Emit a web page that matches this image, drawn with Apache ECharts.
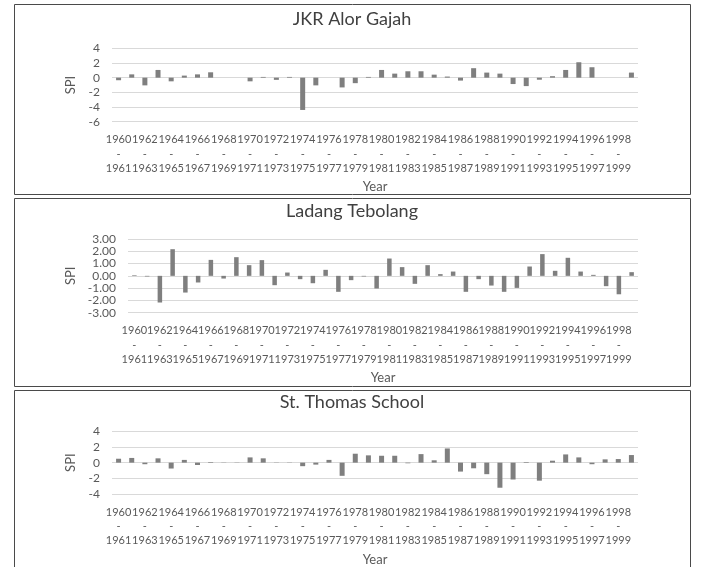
<!DOCTYPE html>
<html>
<head>
<meta charset="utf-8">
<script src="https://cdn.jsdelivr.net/npm/echarts@6/dist/echarts.min.js"></script>
<style>
html,body{margin:0;padding:0;background:#fff;}
#chart{width:701px;height:567px;}
</style>
</head>
<body>
<div id="chart"></div>
<script>
const categories = ["1960-1961","1961-1962","1962-1963","1963-1964","1964-1965","1965-1966","1966-1967","1967-1968","1968-1969","1969-1970",
"1970-1971","1971-1972","1972-1973","1973-1974","1974-1975","1975-1976","1976-1977","1977-1978","1978-1979","1979-1980",
"1980-1981","1981-1982","1982-1983","1983-1984","1984-1985","1985-1986","1986-1987","1987-1988","1988-1989","1989-1990",
"1990-1991","1991-1992","1992-1993","1993-1994","1994-1995","1995-1996","1996-1997","1997-1998","1998-1999","1999-2000"];

const titles = ["JKR Alor Gajah", "Ladang Tebolang", "St. Thomas School"];

const alorGajah = [-0.35, 0.45, -1.05, 1.05, -0.5, 0.28, 0.45, 0.73, 0, 0,
  -0.5, 0.1, -0.3, 0.1, -4.4, -1.05, 0, -1.33, -0.75, 0.1,
  1.05, 0.55, 0.87, 0.87, 0.41, 0.15, -0.4, 1.29, 0.69, 0.55,
  -0.87, -1.15, -0.28, 0.2, 1.05, 2.1, 1.42, 0, 0, 0.69];

const ladangTebolang = [0.05, -0.05, -2.17, 2.17, -1.36, -0.54, 1.30, -0.22, 1.52, 0.87,
  1.28, -0.76, 0.27, -0.27, -0.6, 0.49, -1.3, -0.35, -0.05, -1.03,
  1.41, 0.71, -0.65, 0.87, 0.14, 0.35, -1.3, -0.27, -0.79, -1.3,
  -0.98, 0.76, 1.77, 0.41, 1.47, 0.35, 0.08, -0.84, -1.5, 0.3];

const stThomas = [0.5, 0.6, -0.2, 0.55, -0.75, 0.35, -0.3, 0.08, 0.03, 0.03,
  0.67, 0.55, -0.03, -0.03, -0.45, -0.25, 0.35, -1.68, 1.14, 0.93,
  0.88, 0.88, -0.08, 1.09, 0.3, 1.81, -1.14, -0.72, -1.47, -3.2,
  -2.15, 0.08, -2.3, 0.25, 1.05, 0.67, -0.2, 0.42, 0.46, 0.97];

const yMin = [-6, -3, -4];
const yMax = [4, 3, 4];
const yStep = [2, 1, 2];
const yDecimals = [0, 2, 0];
const seriesData = [alorGajah, ladangTebolang, stThomas];

const FONT = 'Lato, "Open Sans", sans-serif';
const TXT = '#595959';

const panels = [
  {box:[14.5, 4.5, 676, 190], titleTop: 10, grid:{left:112, top:48.3, height:73.4}, nameGap:28, barW:5},
  {box:[14.5, 198.5, 676, 188], titleTop: 202, grid:{left:128, top:239, height:73.7}, nameGap:44, barW:4.5},
  {box:[14.5, 390.5, 676, 200], titleTop: 393, grid:{left:112, top:431.3, height:64}, nameGap:28, barW:5}
];

const option = {
  animation: false,
  backgroundColor: '#fff',
  title: panels.map((p, i) => ({
    text: titles[i], left: 352, textAlign: 'center', top: p.titleTop, padding: 0,
    textStyle: {fontFamily: FONT, fontSize: 18, fontWeight: 'normal', color: '#404040'}
  })),
  graphic: panels.map(p => ({
    type: 'rect', shape: {x: p.box[0], y: p.box[1], width: p.box[2], height: p.box[3]},
    style: {fill: 'none', stroke: '#4a4a4a', lineWidth: 1}, silent: true
  })),
  grid: panels.map(p => ({left: p.grid.left, right: 63, top: p.grid.top, height: p.grid.height})),
  xAxis: panels.map((p, i) => ({
    type: 'category', gridIndex: i, data: categories,
    axisLine: {show: false, onZero: false}, axisTick: {show: false},
    axisLabel: {interval: 1, hideOverlap: false,
      margin: 11, fontFamily: FONT, fontSize: 11, lineHeight: 14.2, color: TXT,
      formatter: v => v.replace('-', '\n-\n')},
    name: 'Year', nameLocation: 'middle', nameGap: 59,
    nameTextStyle: {fontFamily: FONT, fontSize: 13, color: TXT}
  })),
  yAxis: panels.map((p, i) => ({
    type: 'value', gridIndex: i, min: yMin[i], max: yMax[i], interval: yStep[i],
    axisLine: {show: false}, axisTick: {show: false},
    splitLine: {lineStyle: {color: '#d9d9d9', width: 1}},
    axisLabel: {margin: 12, fontFamily: FONT, fontSize: 12, color: TXT,
      formatter: v => v.toFixed(yDecimals[i])},
    name: 'SPI', nameLocation: 'middle', nameGap: p.nameGap,
    nameTextStyle: {fontFamily: FONT, fontSize: 13, color: TXT}
  })),
  series: panels.map((p, i) => ({
    type: 'bar', xAxisIndex: i, yAxisIndex: i, data: seriesData[i],
    barWidth: p.barW, itemStyle: {color: '#7f7f7f'}
  }))
};

const chart = echarts.init(document.getElementById('chart'), null, {renderer: 'canvas'});
chart.setOption(option);
</script>
</body>
</html>
